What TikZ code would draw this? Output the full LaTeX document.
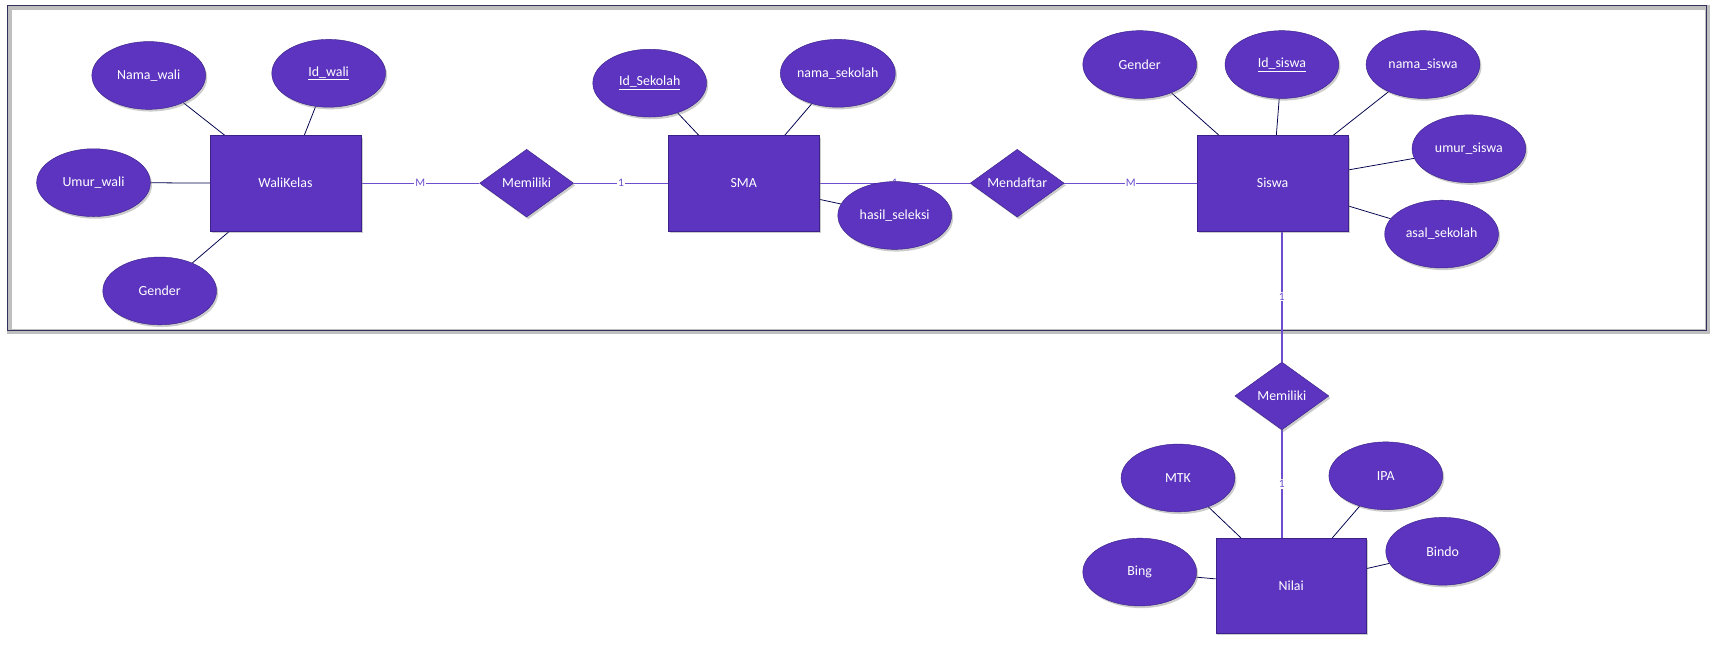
\documentclass[tikz,border=0pt]{standalone}
\usepackage{fontspec}
\setmainfont{Carlito}
\usetikzlibrary{positioning, shapes, shadows, backgrounds}

\definecolor{ungu}{RGB}{92,52,192}
\definecolor{unguTua}{RGB}{58,34,136}
\definecolor{garisRel}{RGB}{108,78,206}
\definecolor{bingkai}{RGB}{50,48,92}

\begin{document}
\begin{tikzpicture}[x=1pt, y=-1pt, node distance=100pt, on grid,
			font=\fontsize{12.7}{15}\selectfont,
			bayang/.style={drop shadow={shadow xshift=1.5pt, shadow yshift=-2pt, opacity=0.4}},
			entitas/.style={rectangle, draw=unguTua, fill=ungu, text=white,
				minimum width=138pt, minimum height=87pt, bayang},
			relasi/.style={diamond, aspect=1.4, inner sep=0pt, draw=unguTua, fill=ungu,
				text=white, minimum width=86pt, minimum height=62pt, bayang},
			atribut/.style={ellipse, inner sep=0pt, draw=unguTua, fill=ungu, text=white,
				minimum width=104pt, minimum height=62pt, bayang},
			hub/.style={draw=black!70!blue, line width=0.7pt},
			garis/.style={draw=garisRel, line width=1.2pt},
			kard/.style={fill=white, inner sep=0.8pt, text=garisRel,
				font=\fontsize{10.5}{11}\selectfont} ]
			\useasboundingbox (0,0) rectangle (1568,589);
			
			%Entitas dan relasi:
			\node[entitas]          (W)                    at (261,167.5) {WaliKelas};
			\node[relasi]           (M1) [right=220.5pt of W]   {Memiliki};
			\node[entitas]          (SMA) [right=198.5pt of M1] {SMA};
			\node[relasi]           (MD) [right=250pt of SMA]   {Mendaftar};
			\node[entitas]          (S)  [right=233.5pt of MD]  {Siswa};
			\node[relasi]           (M2)                   at (1172,362)  {Memiliki};
			\node[entitas]          (N)                    at (1180.5,535.5) {Nilai};
			
			%Atribut:
			\node[atribut] (namaWali)    at (136,69)   {Nama\_wali};
			\node[atribut] (idWali)      at (300.5,67) {\underline{Id\_wali}};
			\node[atribut] (umurWali)    at (85.5,167) {Umur\_wali};
			\node[atribut] (genderWali)  at (146,266)  {Gender};
			\node[atribut] (idSekolah)   at (594,76)   {\underline{Id\_Sekolah}};
			\node[atribut] (namaSekolah) at (766,67)   {nama\_sekolah};
			\node[atribut] (hasil)       at (818,197)  {hasil\_seleksi};
			\node[atribut] (genderSiswa) at (1042,59)  {Gender};
			\node[atribut] (idSiswa)     at (1172,59)  {\underline{Id\_siswa}};
			\node[atribut] (namaSiswa)   at (1301,59)  {nama\_siswa};
			\node[atribut] (umurSiswa)   at (1343,136) {umur\_siswa};
			\node[atribut] (asal)        at (1318,214) {asal\_sekolah};
			\node[atribut] (mtk)         at (1077,437) {MTK};
			\node[atribut] (ipa)         at (1267,435) {IPA};
			\node[atribut] (bing)        at (1042,523) {Bing};
			\node[atribut] (bindo)       at (1319,504) {Bindo};
			
			\begin{scope}[on background layer]
			%Bingkai:
			\draw[line width=4.5pt, black!25] (8.5,6.5) rectangle (1561.5,303.5);
			\draw[line width=1.4pt, bingkai] (7,5) rectangle (1560,302);
			
			%(Entitas) edge node {kardinalitas} (Relasi)
			\path[garis]
			(W)   edge node[kard] {M} (M1)
			(M1)  edge node[kard] {1} (SMA)
			(SMA) edge node[kard] {1} (MD)
			(MD)  edge node[kard] {M} (S)
			(S.south -| M2) edge node[kard] {1} (M2)
			(M2)  edge node[kard] {1} (M2 |- N.north);
			
			\path[hub]
			(W)   edge (namaWali) edge (idWali) edge (umurWali) edge (genderWali)
			(SMA) edge (idSekolah) edge (namaSekolah) edge (hasil)
			(S)   edge (genderSiswa) edge (idSiswa) edge (namaSiswa) edge (umurSiswa) edge (asal)
			(N)   edge (mtk) edge (ipa) edge (bing) edge (bindo);
			\end{scope}
		\end{tikzpicture}
\end{document}
